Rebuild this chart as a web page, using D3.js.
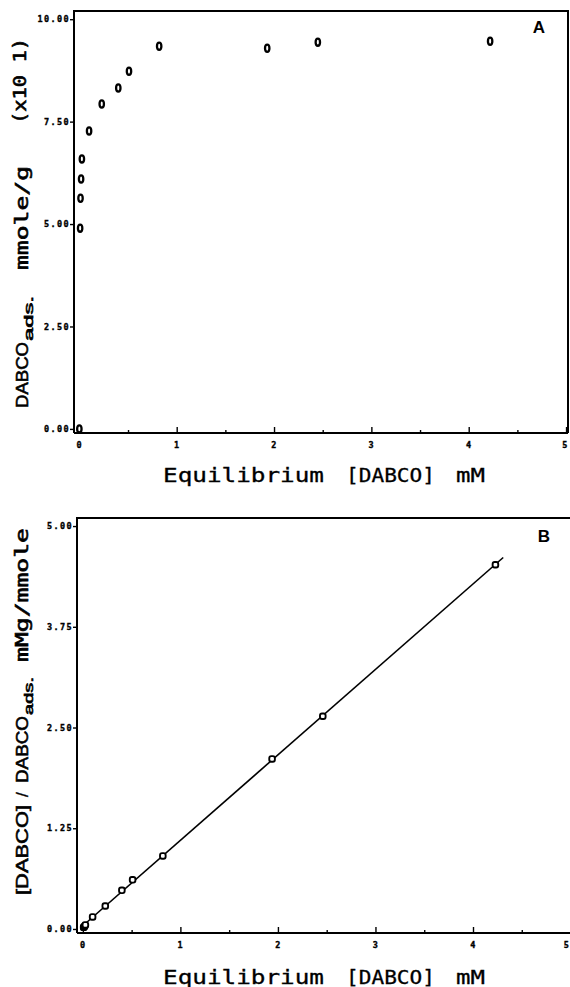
<!DOCTYPE html>
<html>
<head>
<meta charset="utf-8">
<script src="https://cdn.jsdelivr.net/npm/d3@7/dist/d3.min.js"></script>
<style>
  html, body { margin: 0; padding: 0; background: #fff; }
  svg { display: block; }
  .tick text { font-family: "DejaVu Sans Mono", monospace; font-weight: bold; font-size: 8.5px; letter-spacing: 1.4px; fill: #000; stroke: #000; stroke-width: 0.35; }
  .domain { display: none; }
  .tick line { stroke: #000; stroke-width: 1.4; }
</style>
</head>
<body>
<script>
// Panel A: adsorption isotherm of DABCO
const concA = [0, 0.008, 0.012, 0.018, 0.026, 0.10, 0.23, 0.40, 0.51, 0.82, 1.93, 2.45, 4.22];
const adsorbedA = [0, 4.90, 5.63, 6.10, 6.59, 7.27, 7.93, 8.32, 8.73, 9.34, 9.29, 9.44, 9.46];
const yTicksA = [0, 2.5, 5, 7.5, 10];

// Panel B: linearised (Langmuir) form
const concB = [0.008, 0.012, 0.018, 0.026, 0.10, 0.23, 0.40, 0.51, 0.82, 1.94, 2.46, 4.23];
const ratioB = [0.02, 0.025, 0.035, 0.05, 0.15, 0.285, 0.48, 0.61, 0.906, 2.11, 2.64, 4.52];
const fitX = [0, 4.31];
const fitY = [0.04, 4.61];
const yTicksB = [0, 1.25, 2.5, 3.75, 5];

const xTicks = [0, 1, 2, 3, 4, 5];
const xMinor = [0.5, 1.5, 2.5, 3.5, 4.5];

const W = 570, H = 987;
const svg = d3.select("body").append("svg").attr("width", W).attr("height", H);

function panel(cfg) {
  const x = d3.scaleLinear().domain(cfg.xDomain).range(cfg.xRange);
  const y = d3.scaleLinear().domain(cfg.yDomain).range(cfg.yRange);
  const g = svg.append("g");

  // x axis: ticks point into the plot
  const xa = g.append("g")
    .attr("transform", `translate(0,${cfg.yRange[0]})`)
    .call(d3.axisBottom(x).tickValues(xTicks).tickFormat(d3.format("d")).tickSize(-6).tickPadding(9));
  // keep the last label inside the page edge
  xa.selectAll(".tick text").filter(d => d === 5).attr("dx", cfg.lastDx || 0);
  g.append("g")
    .attr("transform", `translate(0,${cfg.yRange[0]})`)
    .call(d3.axisBottom(x).tickValues(xMinor).tickFormat("").tickSize(-3));

  // y axis: ticks point outward
  g.append("g")
    .attr("transform", `translate(${cfg.xRange[0]},0)`)
    .call(d3.axisLeft(y).tickValues(cfg.yTicks).tickFormat(d3.format(".2f")).tickSize(4).tickPadding(0));

  // frame
  const [x0, x1] = cfg.xRange, [y0, y1] = cfg.yRange;
  g.append("path")
    .attr("d", `M${x0},${y0} L${x1},${y0} M${x0},${y0} L${x0},${y1} L${x1},${y1} L${x1},${y0}`)
    .attr("fill", "none").attr("stroke", "#000").attr("stroke-width", 2);

  return { g, x, y };
}

// rotated axis-title pieces, read bottom to top
function vlabel(pieces) {
  pieces.forEach(p => {
    const t = svg.append("text")
      .attr("transform", `translate(${p.x},${p.y0}) rotate(-90)`)
      .attr("text-anchor", "start")
      .style("font-family", p.mono ? "'DejaVu Sans Mono', monospace" : "'Liberation Sans', Arial, sans-serif")
      .style("font-size", p.size + "px")
      .attr("fill", "#000")
      .attr("stroke", "#000")
      .attr("stroke-width", p.thin ? 0.3 : 0.6)
      .text(p.t);
    if (p.len) t.attr("textLength", p.len).attr("lengthAdjust", "spacingAndGlyphs");
  });
}

function xTitle(baseline) {
  const parts = [
    { t: "Equilibrium", x0: 163, len: 161 },
    { t: "[DABCO]", x0: 346, len: 89 },
    { t: "mM", x0: 456, len: 29 }
  ];
  parts.forEach(p => {
    svg.append("text")
      .attr("x", p.x0).attr("y", baseline)
      .attr("textLength", p.len)
      .attr("lengthAdjust", "spacingAndGlyphs")
      .style("font-family", "'DejaVu Sans Mono', monospace")
      .style("font-size", "19px")
      .attr("fill", "#000")
      .attr("stroke", "#000")
      .attr("stroke-width", 0.3)
      .text(p.t);
  });
}

// ---------- Panel A ----------
const A = panel({
  xDomain: [-0.055, 5.02], xRange: [74, 568],
  yDomain: [-0.1, 10.2], yRange: [433, 11],
  yTicks: yTicksA, lastDx: -1
});
A.g.selectAll("ellipse.pt")
  .data(d3.zip(concA, adsorbedA))
  .join("ellipse")
  .attr("class", "pt")
  .attr("cx", d => A.x(d[0]))
  .attr("cy", d => A.y(d[1]))
  .attr("rx", 2.2).attr("ry", 3.6)
  .attr("fill", "#fff").attr("stroke", "#000").attr("stroke-width", 2.3);

svg.append("text").attr("x", 539).attr("y", 33).attr("text-anchor", "middle")
  .style("font-family", "'Liberation Sans', Arial, sans-serif").style("font-weight", "bold").style("font-size", "17px")
  .text("A");

xTitle(482);
vlabel([
  { t: "DABCO", y0: 408, len: 66, x: 28, size: 17 },
  { t: "ads.", y0: 341, len: 45, x: 33, size: 12 },
  { t: "mmole/g", y0: 270, len: 104, x: 28, size: 17, mono: true },
  { t: "(x10 1)", y0: 124, len: 86, x: 26, size: 17, mono: true }
]);

// ---------- Panel B ----------
const B = panel({
  xDomain: [-0.06, 5.015], xRange: [77, 572],
  yDomain: [-0.05, 5.1], yRange: [933, 518],
  yTicks: yTicksB, lastDx: -4
});
B.g.append("path")
  .datum(d3.zip(fitX, fitY))
  .attr("d", d3.line().x(d => B.x(d[0])).y(d => B.y(d[1])))
  .attr("fill", "none").attr("stroke", "#000").attr("stroke-width", 1.6);
B.g.selectAll("rect.pt")
  .data(d3.zip(concB, ratioB))
  .join("rect")
  .attr("class", "pt")
  .attr("x", d => B.x(d[0]) - 2.8)
  .attr("y", d => B.y(d[1]) - 2.8)
  .attr("width", 5.6).attr("height", 5.6).attr("rx", 2)
  .attr("fill", "#fff").attr("stroke", "#000").attr("stroke-width", 1.9);

svg.append("text").attr("x", 544).attr("y", 542).attr("text-anchor", "middle")
  .style("font-family", "'Liberation Sans', Arial, sans-serif").style("font-weight", "bold").style("font-size", "17px")
  .text("B");

xTitle(984);
vlabel([
  { t: "[DABCO]", y0: 895, len: 90, x: 28, size: 17 },
  { t: "/", y0: 797, x: 28, size: 17, thin: true },
  { t: "DABCO", y0: 783, len: 67, x: 28, size: 17 },
  { t: "ads.", y0: 715, len: 38, x: 33, size: 12 },
  { t: "mMg/mmole", y0: 662, len: 134, x: 28, size: 17, mono: true }
]);
</script>
</body>
</html>
